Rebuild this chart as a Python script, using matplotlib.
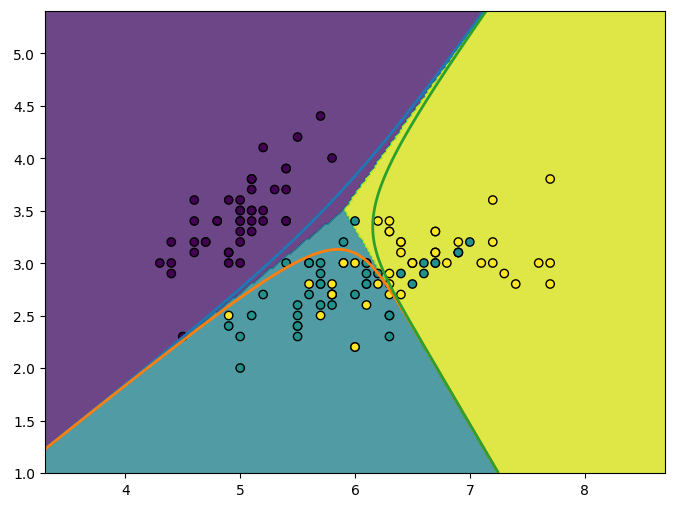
import matplotlib
matplotlib.use("Agg")
import matplotlib.pyplot as plt
import numpy as np

# training points (sepal length, sepal width) per class
setosa_x = [4.3, 4.4, 4.4, 4.4, 4.5, 4.6, 4.6, 4.6, 4.6, 4.7, 4.8, 4.9, 4.9, 4.9,
            5.0, 5.0, 5.0, 5.0, 5.0, 5.0, 5.1, 5.1, 5.1, 5.1, 5.1, 5.2, 5.2, 5.2,
            5.3, 5.4, 5.4, 5.4, 5.5, 5.7, 5.8]
setosa_y = [3.0, 3.0, 2.9, 3.2, 2.3, 3.6, 3.4, 3.2, 3.1, 3.2, 3.4, 3.6, 3.1, 3.0,
            3.6, 3.5, 3.4, 3.3, 3.2, 3.0, 3.8, 3.7, 3.5, 3.4, 3.3, 4.1, 3.5, 3.4,
            3.7, 3.9, 3.7, 3.4, 4.2, 4.4, 4.0]

versi_x = [5.4, 5.6, 5.7, 5.7, 5.7, 5.6, 5.2, 5.1, 4.9, 5.0, 5.0, 5.5, 5.5, 5.5,
           5.5, 5.7, 5.8, 5.9, 6.0, 6.0, 6.1, 6.1, 6.1, 6.2, 6.4, 6.6, 6.7, 6.6,
           6.5, 6.3, 6.3, 7.0, 6.9]
versi_y = [3.0, 3.0, 3.0, 2.9, 2.8, 2.7, 2.7, 2.5, 2.4, 2.3, 2.0, 2.6, 2.5, 2.4,
           2.3, 2.6, 2.6, 3.2, 3.4, 2.7, 3.0, 2.9, 2.8, 2.9, 2.9, 3.0, 3.0, 2.9,
           2.8, 2.5, 2.3, 3.2, 3.1]

virg_x = [4.9, 5.6, 5.7, 5.8, 5.8, 5.9, 6.0, 6.0, 6.1, 6.2, 6.3, 6.3, 6.2, 6.3,
          6.3, 6.3, 6.4, 6.4, 6.4, 6.5, 6.7, 6.7, 6.8, 6.9, 7.1, 7.2, 7.2, 7.2,
          7.3, 7.4, 7.6, 7.7, 7.7, 7.7]
virg_y = [2.5, 2.8, 2.5, 2.8, 2.7, 3.0, 3.0, 2.2, 2.6, 3.4, 3.4, 3.3, 2.8, 2.9,
          2.8, 2.7, 3.2, 3.1, 2.7, 3.0, 3.3, 3.1, 3.0, 3.2, 3.0, 3.6, 3.2, 3.0,
          2.9, 2.8, 3.0, 3.8, 3.0, 2.8]

# points hidden under others (repeated iris samples), guessed
hidden_x = [5.1, 4.7, 5.4, 5.0, 4.9, 4.8, 5.1, 5.1, 5.4, 5.0,
            5.7, 5.6, 6.1, 5.5, 6.4, 6.3, 5.9, 6.0, 6.7, 6.7, 5.8, 5.8,
            5.8, 6.5, 6.5, 6.7, 6.1, 6.9, 6.9, 6.7, 6.3]
hidden_y = [3.5, 3.2, 3.9, 3.4, 3.1, 3.4, 3.8, 3.8, 3.4, 3.5,
            2.8, 3.0, 2.8, 2.4, 3.2, 3.3, 3.0, 2.2, 3.1, 3.1, 2.7, 2.7,
            2.7, 3.0, 3.0, 3.3, 3.0, 3.1, 3.1, 3.0, 2.5]
hidden_c = [0] * 10 + [1] * 12 + [2] * 9

X = np.column_stack([hidden_x + setosa_x + versi_x + virg_x,
                     hidden_y + setosa_y + versi_y + virg_y])
y = np.array(hidden_c + [0] * len(setosa_x) + [1] * len(versi_x) + [2] * len(virg_x))


def softmax(s):
    s = s - s.max(axis=1, keepdims=True)
    e = np.exp(s)
    return e / e.sum(axis=1, keepdims=True)


# multinomial logistic regression, L2 penalty with C=1, fitted with Newton steps
def logreg_fit(X, y, C=1.0, n_iter=60):
    K = len(np.unique(y))
    Xa = np.c_[X, np.ones(len(X))]
    d = Xa.shape[1]
    Y = np.eye(K)[y]
    theta = np.zeros((K, d))
    pen = np.tile(np.r_[np.ones(d - 1), 0.0], K)
    for _ in range(n_iter):
        P = softmax(Xa @ theta.T)
        grad = C * (P - Y).T @ Xa + theta * pen.reshape(K, d)
        H = np.zeros((K * d, K * d))
        for i in range(len(X)):
            A = np.diag(P[i]) - np.outer(P[i], P[i])
            H += C * np.kron(A, np.outer(Xa[i], Xa[i]))
        H += np.diag(pen) + 1e-9 * np.eye(K * d)
        step = np.linalg.pinv(H) @ grad.ravel()
        theta -= step.reshape(K, d)
    return theta


def logreg_proba(theta, P):
    return softmax(np.c_[P, np.ones(len(P))] @ theta.T)


model = logreg_fit(X, y)

h = 0.02
x_min, x_max = X[:, 0].min() - 1, X[:, 0].max() + 1
y_min, y_max = X[:, 1].min() - 1, X[:, 1].max() + 1
xx, yy = np.meshgrid(np.arange(x_min, x_max + h / 2, h),
                     np.arange(y_min, y_max + h / 2, h))
proba = logreg_proba(model, np.c_[xx.ravel(), yy.ravel()])
Z = proba.argmax(axis=1).reshape(xx.shape)

fig = plt.figure(figsize=(6.87, 5.06), dpi=100)
ax = fig.add_axes([45 / 687, 32 / 506, 620 / 687, 462 / 506])

ax.contourf(xx, yy, Z, alpha=0.8)
for k, col in enumerate(["C0", "C1", "C2"]):
    ax.contour(xx, yy, proba[:, k].reshape(xx.shape), [0.5],
               colors=col, linewidths=2)
ax.scatter(X[:, 0], X[:, 1], c=y, edgecolors="k")

ax.set_xlim(x_min, x_max)
ax.set_ylim(y_min, y_max)

fig.savefig("out.png", dpi=100)
